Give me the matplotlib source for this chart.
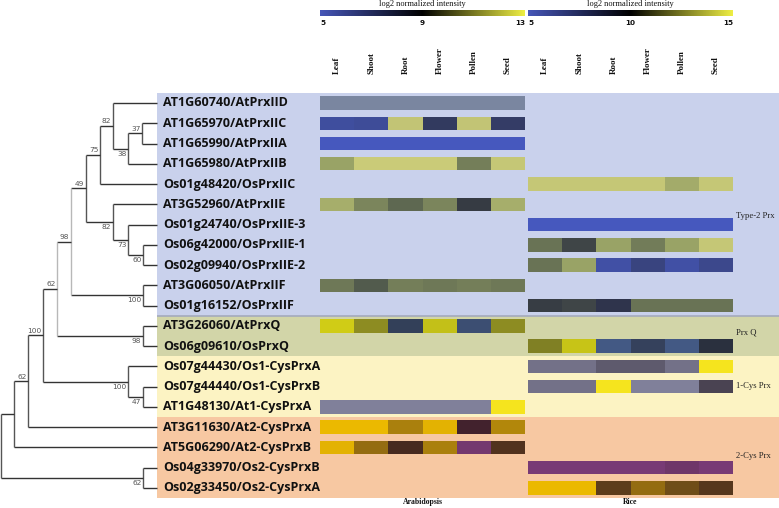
import numpy as np
import matplotlib
matplotlib.use('Agg')
import matplotlib.pyplot as plt
from matplotlib.colors import LinearSegmentedColormap

# ---- data -------------------------------------------------------------
genes = ['AT1G60740/AtPrxIID', 'AT1G65970/AtPrxIIC', 'AT1G65990/AtPrxIIA',
         'AT1G65980/AtPrxIIB', 'Os01g48420/OsPrxIIC', 'AT3G52960/AtPrxIIE',
         'Os01g24740/OsPrxIIE-3', 'Os06g42000/OsPrxIIE-1', 'Os02g09940/OsPrxIIE-2',
         'AT3G06050/AtPrxIIF', 'Os01g16152/OsPrxIIF', 'AT3G26060/AtPrxQ',
         'Os06g09610/OsPrxQ', 'Os07g44430/Os1-CysPrxA', 'Os07g44440/Os1-CysPrxB',
         'AT1G48130/At1-CysPrxA', 'AT3G11630/At2-CysPrxA', 'AT5G06290/At2-CysPrxB',
         'Os04g33970/Os2-CysPrxB', 'Os02g33450/Os2-CysPrxA']
tissues = ['Leaf', 'Shoot', 'Root', 'Flower', 'Pollen', 'Seed']
groups = ['Type-2 Prx', 'Prx Q', '1-Cys Prx', '2-Cys Prx']
group_first = [0, 11, 13, 16]
group_last = [10, 12, 15, 19]

nan = np.nan
# log2 normalized intensity, None = gene not in that species
arab = [[nan] * 6,
        [6.0, 6.2, 12.5, 8.0, 12.5, 7.8],
        [5.0, 5.0, 5.0, 5.0, 5.0, 5.0],
        [11.0, 12.8, 12.8, 12.8, 10.4, 12.6],
        None,
        [11.5, 10.5, 10.0, 10.5, 9.2, 11.5],
        None, None, None,
        [10.3, 9.8, 10.4, 10.3, 10.4, 10.3],
        None,
        [12.8, 11.3, 7.5, 12.5, 6.5, 11.3],
        None, None, None,
        [5.0, 5.0, 5.0, 5.0, 5.0, 13.0],
        [13.0, 13.0, 11.5, 12.8, 8.5, 11.7],
        [12.8, 11.0, 9.3, 11.5, 5.5, 9.5],
        None, None]
rice = [None, None, None, None,
        [14.5, 14.5, 14.5, 14.5, 13.0, 14.5],
        None,
        [5.0, 5.0, 5.0, 5.0, 5.0, 5.0],
        [11.5, 10.5, 12.5, 11.7, 12.5, 14.5],
        [11.5, 12.5, 6.0, 7.5, 6.0, 7.0],
        None,
        [10.3, 10.5, 9.5, 11.5, 11.5, 11.5],
        None,
        [12.5, 14.5, 6.0, 8.0, 6.0, 9.5],
        [6.0, 6.0, 7.5, 7.5, 6.0, 15.0],
        [6.0, 6.0, 15.0, 5.0, 5.0, 9.0],
        None, None, None,
        [5.3, 5.3, 5.3, 5.3, 6.0, 5.3],
        [15.0, 15.0, 11.0, 12.5, 11.5, 10.8]]
arab_range = (5, 13)
rice_range = (5, 15)

# neighbour-joining tree: (node depth, bootstrap, label above?, child, child)
n37 = (142, '37', True, 1, 2)
n38 = (128, '38', False, n37, 3)
n82a = (113, '82', True, 0, n38)
n75 = (100, '75', True, n82a, 4)
n60 = (143, '60', False, 7, 8)
n73 = (128, '73', False, 6, n60)
n82b = (113, '82', False, 5, n73)
n49 = (86, '49', True, n75, n82b)
n100a = (143, '100', False, 9, 10)
n98a = (71, '98', True, n49, n100a)
n98b = (143, '98', False, 11, 12)
n62a = (57, '62', True, n98a, n98b)
n47 = (143, '47', False, 14, 15)
n100b = (128, '100', False, 13, n47)
n100c = (43, '100', True, n62a, n100b)
n62c = (28, '62', True, n100c, 16)
n14 = (14, '', True, n62c, 17)
n62d = (143, '62', False, 18, 19)
tree = (1, '', True, n14, n62d)
leaf_x = 157

# ---- style ------------------------------------------------------------
band_colors = ['#c9d1ec', '#d2d5a8', '#fcf3c3', '#f7c8a2']
band_cmaps = [[(0, '#4658be'), (0.5, '#2c3040'), (0.62, '#5a6450'),
               (0.75, '#98a266'), (1, '#cfcf7a')],
              [(0, '#4a6498'), (0.5, '#262a34'), (1, '#d8d414')],
              [(0, '#80809a'), (0.5, '#3c3440'), (1, '#f5e41e')],
              [(0, '#7c3c7a'), (0.5, '#3a1e22'), (1, '#ebb900')]]
base_cmap = LinearSegmentedColormap.from_list('bky', ['#4656b8', '#000000', '#eeee44'])
light_nodes = {57, 71}
W, H = 779, 508
row0, row_step = 103, 20.26
serif = ['Liberation Serif', 'DejaVu Serif']
narrow = ['Liberation Sans Narrow', 'DejaVu Sans']

fig = plt.figure(figsize=(W / 100, H / 100), dpi=100)


def px_axes(x0, y0, x1, y1, **kw):
    return fig.add_axes([x0 / W, 1 - y1 / H, (x1 - x0) / W, (y1 - y0) / H], **kw)


rows_top = row0 - row_step / 2
rows_bot = row0 + (len(genes) - 0.5) * row_step

# background bands + gene names
ax_bg = px_axes(157, rows_top, W, rows_bot)
ax_bg.set_xlim(157, W)
ax_bg.set_ylim(len(genes) - 0.5, -0.5)
ax_bg.axis('off')
for g, (a, b) in enumerate(zip(group_first, group_last)):
    ax_bg.axhspan(a - 0.5, b + 0.5, color=band_colors[g], lw=0)
ax_bg.axhline(group_last[0] + 0.5, color='#a4aabd', lw=1.2)
for i, name in enumerate(genes):
    ax_bg.text(163, i, name, va='center', ha='left', fontsize=9.0,
               fontweight='bold', family='Open Sans', color='#111111')
label_rows = [5.6, 11.35, 13.97, 17.4]
for g, name in enumerate(groups):
    ax_bg.text(736, label_rows[g], name, va='center', ha='left', fontsize=6.2,
               family=serif, color='#222222')

# tree
ax_tr = px_axes(0, rows_top, 157, rows_bot)
ax_tr.set_xlim(0, 157)
ax_tr.set_ylim(len(genes) - 0.5, -0.5)
ax_tr.axis('off')


def draw(node):
    if isinstance(node, int):
        return leaf_x, node
    x, boot, above, c1, c2 = node
    ys = []
    for c in (c1, c2):
        cx, cy = draw(c)
        ax_tr.plot([x, cx], [cy, cy], color='#333333', lw=1.0, clip_on=False,
                   solid_capstyle='butt')
        ys.append(cy)
    col = '#b8b8b8' if x in light_nodes else '#555555'
    ax_tr.plot([x, x], ys, color=col, lw=1.0, solid_capstyle='butt')
    ym = sum(ys) / 2
    if boot:
        ax_tr.text(x - 1.5, ym + (-0.08 if above else 0.1), boot, fontsize=5.3,
                   family=narrow, color='#555555', ha='right',
                   va='bottom' if above else 'top')
    return x, ym


draw(tree)

# heatmaps
x_edges = np.arange(len(tissues) + 1)
for data, vr, (x0, x1), title, tick_vals in [
        (arab, arab_range, (320, 525), 'Arabidopsis', [5, 9, 13]),
        (rice, rice_range, (528, 733), 'Rice', [5, 10, 15])]:
    ax = px_axes(x0, rows_top, x1, rows_bot)
    ax.set_xlim(0, len(tissues))
    ax.set_ylim(len(genes) - 0.5, -0.5)
    ax.axis('off')
    for g, (a, b) in enumerate(zip(group_first, group_last)):
        cmap = LinearSegmentedColormap.from_list('g%d' % g, band_cmaps[g])
        cmap.set_bad('#7a86a0')
        for r in range(a, b + 1):
            if data[r] is None:
                continue
            vals = np.ma.masked_invalid(np.array([data[r]]))
            ax.pcolormesh(x_edges, [r - 0.33, r + 0.33], vals, cmap=cmap,
                          vmin=vr[0], vmax=vr[1], shading='flat')
    for j, t in enumerate(tissues):
        ax.text(j + 0.5, -1.45, t, rotation=90, ha='center', va='bottom',
                fontsize=6.5, fontweight='bold', family=serif, color='#111111')
    ax.text(len(tissues) / 2, len(genes) - 0.3, title, ha='center', va='center',
            fontsize=5.6, fontweight='bold', family=serif, color='#111111')

    # colour scale
    cb = px_axes(x0, 10, x1, 16)
    cb.imshow(np.linspace(vr[0], vr[1], 256)[None, :], cmap=base_cmap,
              aspect='auto', extent=[vr[0], vr[1], 0, 1])
    cb.axis('off')
    cb.text((vr[0] + vr[1]) / 2, 1.35, 'log2 normalized intensity', ha='center',
            va='bottom', fontsize=6.0, family=serif, color='#111111')
    for k, v in enumerate(tick_vals):
        ha = ['left', 'center', 'right'][k]
        cb.text(v, -0.6, str(v), ha=ha, va='top', fontsize=5.2,
                fontweight='bold', family='DejaVu Sans', color='#111111')

fig.savefig('out.png', dpi=100)
